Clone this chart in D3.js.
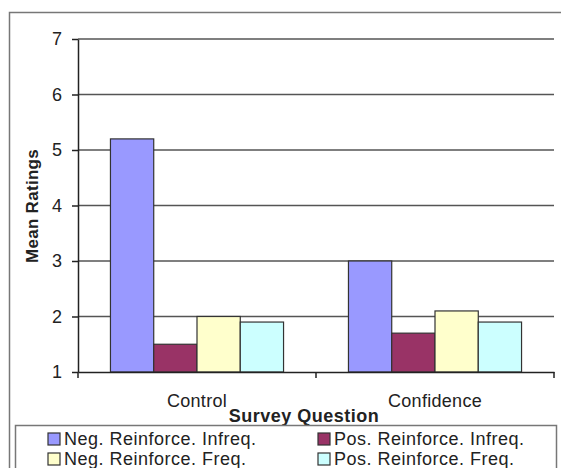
<!DOCTYPE html>
<html>
<head>
<meta charset="utf-8">
<script src="https://cdn.jsdelivr.net/npm/d3@7"></script>
<style>
  body { margin: 0; background: #fff; }
  text { font-family: "Liberation Sans", Arial, sans-serif; fill: #222; }
</style>
</head>
<body>
<svg width="561" height="468"></svg>
<script>
var width = 561;
var height = 468;

var categories = ["Control", "Confidence"];
var seriesNames = ["Neg. Reinforce. Infreq.", "Pos. Reinforce. Infreq.", "Neg. Reinforce. Freq.", "Pos. Reinforce. Freq."];
var negInfreq = [5.2, 3.0];
var posInfreq = [1.5, 1.7];
var negFreq = [2.0, 2.1];
var posFreq = [1.9, 1.9];
var colors = ["#9999ff", "#993366", "#ffffcc", "#ccffff"];
var yTicks = [1, 2, 3, 4, 5, 6, 7];

var seriesValues = [negInfreq, posInfreq, negFreq, posFreq];

var plotLeft = 78, plotRight = 554, plotTop = 39, plotBottom = 372;

var svg = d3.select("svg");

// outer chart border (runs off the right and bottom edge)
svg.append("rect")
    .attr("x", 9.5).attr("y", 12.5)
    .attr("width", 600).attr("height", 500)
    .attr("fill", "none")
    .attr("stroke", "#777")
    .attr("stroke-width", 1.5);

var xScale = d3.scaleBand()
    .domain(categories)
    .range([plotLeft, plotRight])
    .padding(0);

var xInner = d3.scaleBand()
    .domain(d3.range(seriesNames.length))
    .range([0, xScale.bandwidth()])
    .paddingInner(0)
    .paddingOuter(0.75);

var yScale = d3.scaleLinear()
    .domain([1, 7])
    .range([plotBottom, plotTop]);

// gridlines
svg.append("g")
    .selectAll("line")
    .data(yTicks.filter(d => d > 1))
    .enter()
    .append("line")
    .attr("x1", plotLeft).attr("x2", plotRight)
    .attr("y1", d => yScale(d)).attr("y2", d => yScale(d))
    .attr("stroke", "#555")
    .attr("stroke-width", 1.5);

// bars
var groups = svg.append("g")
    .selectAll("g")
    .data(categories)
    .enter()
    .append("g")
    .attr("transform", d => "translate(" + xScale(d) + ",0)");

groups.selectAll("rect")
    .data((c, i) => seriesValues.map((s, j) => ({ series: j, value: s[i] })))
    .enter()
    .append("rect")
    .attr("x", d => xInner(d.series))
    .attr("y", d => yScale(d.value))
    .attr("width", xInner.bandwidth())
    .attr("height", d => yScale(1) - yScale(d.value))
    .attr("fill", d => colors[d.series])
    .attr("stroke", "#333")
    .attr("stroke-width", 1.2);

// y axis
var yAxis = d3.axisLeft(yScale)
    .tickValues(yTicks)
    .tickFormat(d3.format("d"))
    .tickSize(6)
    .tickPadding(10)
    .tickSizeOuter(0);

var yg = svg.append("g")
    .attr("transform", "translate(" + plotLeft + ",0)")
    .call(yAxis);
yg.select(".domain").attr("stroke", "#222").attr("stroke-width", 1.5);
yg.selectAll(".tick line").attr("stroke", "#222").attr("stroke-width", 1.5);
yg.selectAll("text").attr("font-size", 18).attr("fill", "#333").attr("font-family", "Liberation Sans, Arial, sans-serif");

// x axis
var xAxis = d3.axisBottom(xScale)
    .tickSize(0)
    .tickPadding(22)
    .tickSizeOuter(0);

var xg = svg.append("g")
    .attr("transform", "translate(0," + plotBottom + ")")
    .call(xAxis);
xg.select(".domain").attr("stroke", "#222").attr("stroke-width", 1.5);
xg.selectAll("text").attr("font-size", 18).attr("letter-spacing", 0.3).attr("fill", "#333").attr("font-family", "Liberation Sans, Arial, sans-serif");

// category boundary ticks
svg.append("g")
    .selectAll("line")
    .data([plotLeft, xScale("Confidence"), plotRight])
    .enter()
    .append("line")
    .attr("x1", d => d).attr("x2", d => d)
    .attr("y1", plotBottom).attr("y2", plotBottom + 6)
    .attr("stroke", "#222")
    .attr("stroke-width", 1.5);

// axis titles
svg.append("text")
    .attr("x", 304).attr("y", 422)
    .attr("text-anchor", "middle")
    .attr("font-size", 18)
    .attr("letter-spacing", 0.5)
    .attr("font-weight", "bold")
    .text("Survey Question");

svg.append("text")
    .attr("transform", "translate(38,206) rotate(-90)")
    .attr("text-anchor", "middle")
    .attr("font-size", 17)
    .attr("letter-spacing", 0.3)
    .attr("font-weight", "bold")
    .text("Mean Ratings");

// legend
svg.append("rect")
    .attr("x", 15.5).attr("y", 425.5)
    .attr("width", 541).attr("height", 80)
    .attr("fill", "#fff")
    .attr("stroke", "#777")
    .attr("stroke-width", 1.5);

var legendPos = [[48, 439], [318, 439], [48, 459], [318, 459]];

var legend = svg.append("g")
    .selectAll("g")
    .data(seriesNames)
    .enter()
    .append("g")
    .attr("transform", (d, i) => "translate(" + legendPos[i][0] + "," + legendPos[i][1] + ")");

legend.append("rect")
    .attr("x", 0).attr("y", -6)
    .attr("width", 12).attr("height", 12)
    .attr("fill", (d, i) => colors[i])
    .attr("stroke", "#333")
    .attr("stroke-width", 1.2);

legend.append("text")
    .attr("x", 16).attr("y", 6)
    .attr("font-size", 18)
    .attr("letter-spacing", 0.5)
    .text(d => d);
</script>
</body>
</html>
